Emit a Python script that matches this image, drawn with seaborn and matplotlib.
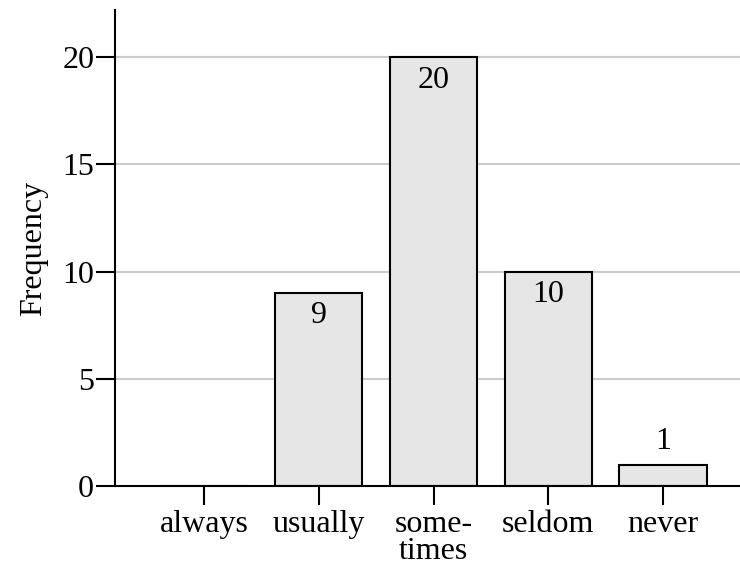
import matplotlib
matplotlib.use("Agg")
import matplotlib.pyplot as plt
import seaborn as sns
import pandas as pd

categories = ["always", "usually", "some-\ntimes", "seldom", "never"]
frequency = [0, 9, 20, 10, 1]
yticks = [0, 5, 10, 15, 20]

sns.set_style("ticks")
plt.rcParams["font.family"] = ["Liberation Serif", "DejaVu Serif"]
plt.rcParams["font.size"] = 23
plt.rcParams["text.color"] = "black"
plt.rcParams["axes.labelcolor"] = "black"
plt.rcParams["xtick.color"] = "black"
plt.rcParams["ytick.color"] = "black"

df = pd.DataFrame({"answer": categories, "Frequency": frequency})

fig = plt.figure(figsize=(7.4, 5.73), dpi=100)
ax = fig.add_axes([115 / 740, 87 / 573, 625 / 740, 476 / 573])

sns.barplot(data=df, x="answer", y="Frequency", ax=ax, color="#e6e6e6",
            edgecolor="black", linewidth=1.5, width=0.76, saturation=1)

ax.set_xlim(-0.776, 4.67)
ax.set_ylim(0, 22.2)
ax.set_yticks(yticks)
ax.set_xlabel("")
ax.set_ylabel("Frequency", fontsize=23, labelpad=10, color="black")
ax.set_axisbelow(True)
for y in yticks[1:]:
    ax.axhline(y, color="#cccccc", lw=1.5, zorder=0)

for s in ["top", "right"]:
    ax.spines[s].set_visible(False)
for s in ["left", "bottom"]:
    ax.spines[s].set_linewidth(1.5)
    ax.spines[s].set_color("black")
ax.tick_params(axis="both", length=14, width=1.5, color="black",
               labelcolor="black", labelsize=23)
ax.tick_params(axis="y", pad=1)
ax.tick_params(axis="x", pad=3)
for lbl in ax.get_xticklabels():
    lbl.set_linespacing(0.92)

for bar, val in zip(ax.patches, frequency):
    if val == 0:
        continue
    cx = bar.get_x() + bar.get_width() / 2
    top = bar.get_height()
    if val >= 5:
        ax.annotate(str(val), (cx, top), xytext=(0, -6), textcoords="offset points",
                    ha="center", va="top", fontsize=23, color="black")
    else:
        ax.annotate(str(val), (cx, top), xytext=(0, 6), textcoords="offset points",
                    ha="center", va="bottom", fontsize=23, color="black")

fig.savefig("out.png", dpi=100)
